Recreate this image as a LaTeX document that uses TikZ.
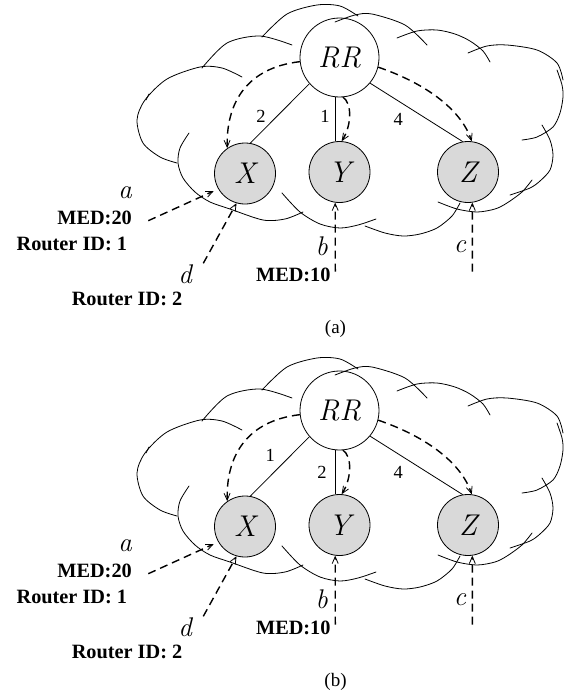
\documentclass[tikz,border=0pt]{standalone}
\usepackage{fontspec}
\setmainfont{Liberation Serif}
\newfontfamily\lmfont{Latin Modern Roman}
\usetikzlibrary{arrows.meta}
\definecolor{nodegray}{RGB}{217,217,217}
\tikzset{
  cloudarc/.style={line width=0.8pt, line cap=round},
  router/.style={circle, draw, line width=0.8pt, fill=nodegray, minimum size=61pt, inner sep=0pt, font=\lmfont\itshape\fontsize{30}{31}\selectfont},
  rrnode/.style={circle, draw, line width=0.8pt, minimum size=79pt, inner sep=0pt, font=\lmfont\itshape\fontsize{30}{31}\selectfont},
  link/.style={line width=0.8pt},
  darr/.style={line width=1.4pt, dash pattern=on 8pt off 5pt, -{Straight Barb[length=7pt,width=6pt,line width=0.8pt]}},
  medtext/.style={font=\fontsize{20.3}{22}\selectfont\bfseries, inner sep=0pt},
  varlabel/.style={font=\lmfont\itshape\fontsize{27}{28}\selectfont, inner sep=0pt},
  numlabel/.style={font=\fontsize{18.5}{20}\selectfont, inner sep=0pt},
  captext/.style={font=\fontsize{19}{21}\selectfont, inner sep=0pt},
}
\newcommand{\netdiagram}[5]{%
  % cloud
  \draw[cloudarc] plot[smooth] coordinates {(262,37) (287,14) (317,5) (340,6) (358,16)};
  \draw[cloudarc] plot[smooth] coordinates {(202,68) (227,43) (260,36) (292,45)};
  \draw[cloudarc] plot[smooth] coordinates {(242,77) (222,68) (200,67) (167,79) (145,100) (137,120) (143,143) (160,157) (177,163)};
  \draw[cloudarc] (146,100) -- (149,94);
  \draw[cloudarc] plot[smooth] coordinates {(189,133) (180,148) (178,163) (183,178) (195,192) (210,202) (230,209) (263,220) (285,219) (303,212)};
  \draw[cloudarc] plot[smooth] coordinates {(282,193) (300,212) (320,224) (340,228) (358,225) (376,219)};
  \draw[cloudarc] plot[smooth] coordinates {(365,226) (385,233) (403,236) (420,234) (437,228) (452,216) (460,203)};
  \draw[cloudarc] plot[smooth] coordinates {(438,202) (457,209) (477,212) (495,209) (507,203) (522,192) (532,180)};
  \draw[cloudarc] plot[smooth] coordinates {(542,125) (550,140) (553,155) (550,170) (540,181) (530,188) (510,195)};
  \draw[cloudarc] plot[smooth] coordinates {(557,70) (562,85) (563,97) (560,113) (553,127) (537,137) (522,140)};
  \draw[cloudarc] plot[smooth] coordinates {(468,53) (487,46) (507,45) (537,50) (557,63) (563,80)};
  \draw[cloudarc] plot[smooth] coordinates {(397,38) (417,31) (437,30) (455,34) (470,41) (483,51) (490,62)};
  % nodes
  \node[rrnode] (RR) at (339.5,57.5) {RR};
  \draw[cloudarc] plot[smooth] coordinates {(335,22) (355,15) (372,14) (405,25) (427,45)};
  \node[router] (X) at (245,173.5) {X};
  \node[router] (Y) at (339.5,172) {Y};
  \node[router] (Z) at (468,172) {Z};
  % solid links
  \draw[link] (RR.221) -- (X.80);
  \draw[link] ([xshift=-4.5pt]RR.south) -- ([xshift=-4.5pt]Y.north);
  \draw[link] (RR.-40) -- (Z.100);
  \node[numlabel] (nX) at #2 {#1};
  \node[numlabel] (nY) at #4 {#3};
  \node[numlabel] (nZ) at (398.3,119.7) {4};
  % reflected routes
  \draw[darr] (RR.186) .. controls (245,68) and (226,105) .. (X.125);
  \draw[darr] (RR.-85) .. controls (352,103) and (352,125) .. (Y.86);
  \draw[darr] (RR.-14) .. controls (430,85) and (462,112) .. (Z.83);
  % external routes
  \coordinate (aS) at (148.3,220.7);
  \coordinate (dS) at (203.3,263.3);
  \coordinate (bS) at (335.3,271.7);
  \coordinate (cS) at (472.3,271.7);
  \draw[darr, shorten >=5pt] (aS) -- (X.210);
  \draw[darr] (dS) -- (X.254);
  \draw[darr] (bS) -- (Y.262);
  \draw[darr] (cS) -- (Z.278);
  % labels
  \node[varlabel] (la) at (125,192.5) {a};
  \node[medtext, anchor=east] (m20) at (132,218.3) {MED:20};
  \node[medtext, anchor=east] (r1) at (127.3,244) {Router ID: 1};
  \node[varlabel] (ld) at (185,274) {d};
  \node[medtext] (r2) at (127,299) {Router ID: 2};
  \node[varlabel] (lb) at (321.7,246.7) {b};
  \node[medtext] (m10) at (293.3,275) {MED:10};
  \node[varlabel] (lc) at (460,246.7) {c};
  \node[captext] (cap) at (335.5,328.7) {#5};
}
\begin{document}
\begin{tikzpicture}[x=1pt, y=-1pt]
  \useasboundingbox[fill=white] (0,0) rectangle (572,696);
  \begin{scope}[name prefix=a-]
    \netdiagram{2}{(261,116.3)}{1}{(325,116.7)}{(a)}
  \end{scope}
  \begin{scope}[yshift=-353pt, name prefix=b-]
    \netdiagram{1}{(270.3,102)}{2}{(322,119)}{(b)}
  \end{scope}
\end{tikzpicture}
\end{document}
